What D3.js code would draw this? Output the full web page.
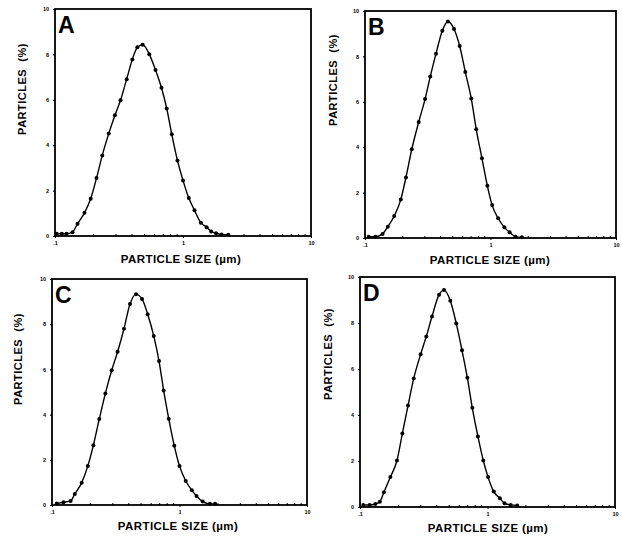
<!DOCTYPE html>
<html>
<head>
<meta charset="utf-8">
<script src="https://cdn.jsdelivr.net/npm/d3@7"></script>
<style>
  body { margin: 0; background: #fff; }
  text { font-family: "Liberation Sans", Arial, sans-serif; fill: #000; }
</style>
</head>
<body>
<div id="chart"></div>
<script>
// particle size distributions (size in um, % of particles)
var sizesA = [0.103, 0.113, 0.123, 0.137, 0.150, 0.170, 0.190, 0.211, 0.234, 0.263, 0.294, 0.325, 0.363, 0.402, 0.440, 0.484, 0.545, 0.610, 0.679, 0.746, 0.817, 0.905, 1.00, 1.11, 1.23, 1.38, 1.53, 1.66, 1.81, 2.00, 2.26];
var pctA   = [0.10, 0.10, 0.10, 0.17, 0.54, 1.02, 1.64, 2.55, 3.55, 4.51, 5.32, 5.98, 6.91, 7.78, 8.31, 8.43, 8.01, 7.31, 6.53, 5.62, 4.48, 3.33, 2.45, 1.67, 1.13, 0.58, 0.39, 0.20, 0.12, 0.07, 0.05];

var sizesB = [0.107, 0.121, 0.138, 0.152, 0.171, 0.193, 0.212, 0.236, 0.268, 0.301, 0.331, 0.368, 0.413, 0.458, 0.512, 0.568, 0.630, 0.703, 0.770, 0.855, 0.944, 1.03, 1.15, 1.29, 1.42, 1.58, 1.78];
var pctB   = [0.06, 0.06, 0.18, 0.50, 0.97, 1.70, 2.67, 3.91, 5.11, 6.12, 7.11, 8.12, 9.13, 9.54, 9.21, 8.46, 7.31, 6.14, 4.79, 3.51, 2.30, 1.45, 0.87, 0.47, 0.25, 0.06, 0.03];

var sizesC = [0.109, 0.123, 0.140, 0.151, 0.171, 0.191, 0.211, 0.235, 0.262, 0.294, 0.327, 0.367, 0.409, 0.456, 0.508, 0.563, 0.628, 0.691, 0.751, 0.823, 0.910, 1.00, 1.12, 1.25, 1.36, 1.52, 1.73, 1.90];
var pctC   = [0.07, 0.12, 0.18, 0.49, 0.99, 1.73, 2.64, 3.81, 4.93, 5.96, 6.78, 7.80, 8.89, 9.32, 9.12, 8.44, 7.48, 6.37, 5.07, 3.82, 2.62, 1.73, 1.06, 0.65, 0.40, 0.15, 0.05, 0.05];

var sizesD = [0.106, 0.119, 0.132, 0.143, 0.154, 0.173, 0.195, 0.215, 0.238, 0.264, 0.299, 0.331, 0.367, 0.417, 0.456, 0.511, 0.569, 0.631, 0.695, 0.760, 0.841, 0.927, 1.01, 1.12, 1.25, 1.36, 1.52, 1.71];
var pctD   = [0.09, 0.09, 0.13, 0.23, 0.64, 1.30, 2.02, 3.20, 4.41, 5.59, 6.64, 7.41, 8.28, 9.23, 9.43, 8.97, 7.98, 6.81, 5.62, 4.31, 3.07, 2.02, 1.30, 0.67, 0.38, 0.16, 0.09, 0.07];

var xTicks = [0.1, 1, 10];
var xTickLabels = [".1", "1", "10"];
var yTicks = [0, 2, 4, 6, 8, 10];

// panel boxes in page px, plus where the axis titles sit
var panels = [
  {letter: "A", sizes: sizesA, pct: pctA, left: 55,  top: 9,   right: 311, bottom: 236, ylab: [22, 89],   xlab: [181, 263]},
  {letter: "B", sizes: sizesB, pct: pctB, left: 365, top: 11,  right: 616, bottom: 238, ylab: [333, 80],  xlab: [490, 264]},
  {letter: "C", sizes: sizesC, pct: pctC, left: 52,  top: 279, right: 307, bottom: 505, ylab: [18, 359],  xlab: [178, 530]},
  {letter: "D", sizes: sizesD, pct: pctD, left: 360, top: 277, right: 615, bottom: 507, ylab: [328, 354], xlab: [488, 532]}
];

var svg = d3.select("#chart").append("svg")
  .attr("width", 622)
  .attr("height", 540);

panels.forEach(function(p) {
  var x = d3.scaleLog().domain([0.1, 10]).range([p.left, p.right]);
  var y = d3.scaleLinear().domain([0, 10]).range([p.bottom, p.top]);
  var g = svg.append("g");

  // frame
  g.append("rect")
    .attr("x", p.left).attr("y", p.top)
    .attr("width", p.right - p.left).attr("height", p.bottom - p.top)
    .attr("fill", "none").attr("stroke", "#000").attr("stroke-width", 1.8);

  // y axis, tiny labels + small ticks
  var yAxis = d3.axisLeft(y).tickValues(yTicks).tickSize(2).tickPadding(4);
  var ya = g.append("g").attr("transform", "translate(" + p.left + ",0)").call(yAxis);
  ya.select(".domain").remove();
  ya.selectAll("text").attr("font-size", 5.5).attr("font-weight", "bold");
  ya.selectAll("line").attr("stroke-width", 1.2);

  // x axis, log scale with minor ticks
  var minor = [];
  [0.1, 1].forEach(function(dec) {
    for (var k = 2; k <= 9; k++) minor.push(dec * k);
  });
  var xa = g.append("g").attr("transform", "translate(0," + p.bottom + ")")
    .call(d3.axisBottom(x).tickValues(xTicks)
      .tickFormat(function(d, i) { return xTickLabels[i]; })
      .tickSize(2).tickPadding(3));
  xa.select(".domain").remove();
  xa.selectAll("text").attr("font-size", 5.5).attr("font-weight", "bold");
  g.append("g").attr("transform", "translate(0," + p.bottom + ")")
    .selectAll("line").data(minor).enter().append("line")
    .attr("x1", function(d) { return x(d); }).attr("x2", function(d) { return x(d); })
    .attr("y1", 0).attr("y2", -2)
    .attr("stroke", "#000").attr("stroke-width", 1);

  // curve
  var pts = p.sizes.map(function(s, i) { return [s, p.pct[i]]; });
  g.append("path")
    .datum(pts)
    .attr("fill", "none").attr("stroke", "#000").attr("stroke-width", 1.4)
    .attr("d", d3.line()
      .x(function(d) { return x(d[0]); })
      .y(function(d) { return y(d[1]); })
      .curve(d3.curveMonotoneX));

  g.selectAll("circle.pt").data(pts).enter().append("circle")
    .attr("class", "pt")
    .attr("cx", function(d) { return x(d[0]); })
    .attr("cy", function(d) { return y(d[1]); })
    .attr("r", 2)
    .attr("fill", "#000");

  // panel letter
  g.append("text")
    .attr("x", p.left + 3).attr("y", p.top + 24)
    .attr("font-size", 23).attr("font-weight", "bold")
    .text(p.letter);

  // axis titles
  g.append("text")
    .attr("transform", "translate(" + (p.ylab[0] + 4) + "," + p.ylab[1] + ") rotate(-90)")
    .attr("text-anchor", "middle")
    .attr("font-size", 11).attr("font-weight", "bold")
    .attr("letter-spacing", 0.5)
    .text("PARTICLES\u00a0\u00a0(%)");
  g.append("text")
    .attr("x", p.xlab[0]).attr("y", p.xlab[1])
    .attr("text-anchor", "middle")
    .attr("font-size", 11.5).attr("font-weight", "bold")
    .attr("letter-spacing", 0.4)
    .text("PARTICLE SIZE (\u00b5m)");
});
</script>
</body>
</html>
